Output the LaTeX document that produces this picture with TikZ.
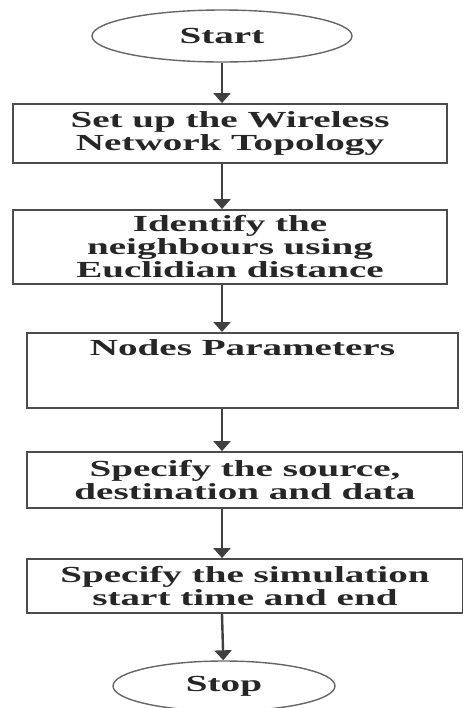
\documentclass[tikz,border=0pt]{standalone}
\usepackage{fontspec}
\setmainfont{Liberation Serif}[FakeStretch=1.7]
\usetikzlibrary{arrows.meta,shapes.geometric,positioning}

\begin{document}
\begin{tikzpicture}[x=0.5pt,y=-0.5pt,
  procbox/.style={draw=black!70, line width=0.9pt, inner sep=0pt, align=center,
    font=\bfseries\fontsize{11.5}{11.5}\selectfont, text=black!85},
  termin/.style={ellipse, draw=black!60, line width=0.7pt, inner sep=0pt,
    font=\bfseries\fontsize{11.5}{11.5}\selectfont, text=black!85},
  arr/.style={draw=black!75, line width=1.2pt, -{Triangle[width=8.5pt,length=5pt]}}]
\useasboundingbox (0,0) rectangle (462,708);

% Terminals
\node[termin, minimum width=130pt, minimum height=26pt] (start) at (222,36) {Start};
\node[termin, minimum width=111pt, minimum height=25pt] (stop) at (224,686) {Stop};

% Process boxes
\node[procbox, minimum width=217pt, minimum height=29.5pt] (setup) at (230,133.5)
  {Set up the Wireless\\Network Topology};
\node[procbox, minimum width=217pt, minimum height=37pt] (nbr) at (230,247)
  {Identify the\\neighbours using\\Euclidian distance};
% Text sits at the top of this one
\node[procbox, minimum width=215.5pt, text height=11.5pt, text depth=26pt, anchor=north] (param) at (242.5,332)
  {Nodes Parameters};
\node[procbox, minimum width=218pt, minimum height=28pt] (src) at (245,480)
  {Specify the source,\\destination and data};
\node[procbox, minimum width=218pt, minimum height=27pt] (sim) at (245,586)
  {Specify the simulation\\start time and end};

% Connectors
\draw[arr] (start) -- (start |- setup.north);
\draw[arr] (start |- setup.south) -- (start |- nbr.north);
\draw[arr] (start |- nbr.south) -- (start |- param.north);
\draw[arr] (start |- param.south) -- (start |- src.north);
\draw[arr] (start |- src.south) -- (start |- sim.north);
\draw[arr] (start |- sim.south) -- (stop);
\end{tikzpicture}
\end{document}
